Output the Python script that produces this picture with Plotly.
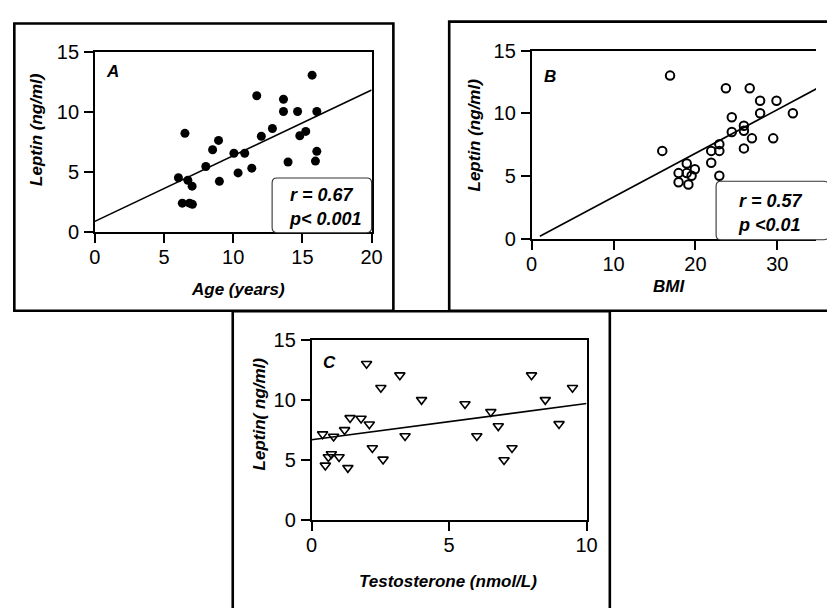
import numpy as np
import plotly.graph_objects as go

W, H = 827, 608

# ---------------- data ----------------
age = [6.04, 6.51, 6.72, 6.32, 6.84, 7.05, 7.03, 8.02, 8.51, 8.94, 9.0, 10.05, 10.35, 10.83,
       11.34, 11.7, 12.03, 12.83, 13.63, 13.63, 13.96, 14.65, 14.81, 15.24, 15.7, 16.04, 16.04, 15.94]
leptin_a = [4.5, 8.2, 4.29, 2.38, 2.38, 2.28, 3.8, 5.44, 6.83, 7.61, 4.2, 6.54, 4.9, 6.54,
            5.3, 11.33, 7.96, 8.6, 11.04, 10.02, 5.81, 10.02, 8.0, 8.36, 13.05, 10.02, 6.7, 5.89]

bmi = [15.95, 16.9, 17.94, 17.94, 18.94, 18.94, 19.14, 19.53, 19.93, 21.93, 21.93, 22.92, 22.92, 22.92,
       23.72, 24.44, 24.44, 25.92, 25.92, 25.92, 26.63, 26.9, 27.9, 27.9, 29.5, 29.9, 31.9]
leptin_b = [7.0, 13.0, 5.23, 4.5, 6.0, 5.23, 4.33, 5.02, 5.54, 7.0, 6.05, 7.54, 7.0, 5.02,
            12.0, 9.68, 8.5, 9.0, 8.6, 7.2, 12.0, 8.0, 11.0, 10.0, 8.0, 11.0, 10.0]

testo = [0.40, 0.50, 0.61, 0.72, 0.80, 1.0, 1.2, 1.32, 1.40, 1.80, 2.0, 2.1, 2.21, 2.52,
         2.6, 3.21, 3.40, 4.0, 5.58, 6.01, 6.52, 6.79, 7.0, 7.29, 8.0, 8.5, 9.0, 9.49]
leptin_c = [7.15, 4.55, 5.25, 5.5, 6.95, 5.25, 7.5, 4.35, 8.5, 8.45, 13.0, 7.97, 6.0, 11.0,
            5.05, 12.05, 7.0, 10.0, 9.66, 7.0, 9.0, 7.82, 5.0, 6.0, 12.05, 10.0, 8.0, 11.0]

# regression lines (intercept, slope, x-start, x-end)
fit_intercept = [0.86, -0.15, 6.68]
fit_slope = [0.5475, 0.348, 0.301]
fit_x0 = [0, 1, 0]
fit_x1 = [20, 35, 10]

stats_text = [["r = 0.67", "p< 0.001"], ["r = 0.57", "p <0.01"]]
panel_letters = ["A", "B", "C"]
y_ticks = [0, 5, 10, 15]
x_ticks = [[0, 5, 10, 15, 20], [0, 10, 20, 30], [0, 5, 10]]
x_titles = ["Age (years)", "BMI", "Testosterone (nmol/L)"]
y_titles = ["Leptin (ng/ml)", "Leptin (ng/ml)", "Leptin( ng/ml)"]

FONT = "Liberation Sans, Arial, Helvetica, sans-serif"


def fx(px):
    return px / W


def fy(py):
    return 1 - py / H


fig = go.Figure()

# scatter points
fig.add_trace(go.Scatter(x=age, y=leptin_a, mode="markers", xaxis="x", yaxis="y",
                         marker=dict(symbol="circle", size=9, color="black"), showlegend=False))
fig.add_trace(go.Scatter(x=bmi, y=leptin_b, mode="markers", xaxis="x2", yaxis="y2",
                         marker=dict(symbol="circle-open", size=8.5, color="black", line=dict(width=2)),
                         showlegend=False))
fig.add_trace(go.Scatter(x=testo, y=leptin_c, mode="markers", xaxis="x3", yaxis="y3",
                         marker=dict(symbol="triangle-down-open", size=9, color="black", line=dict(width=1.6)),
                         showlegend=False))

# regression lines
axes_ids = [("x", "y"), ("x2", "y2"), ("x3", "y3")]
for i, (xa, ya) in enumerate(axes_ids):
    xs = np.array([fit_x0[i], fit_x1[i]], dtype=float)
    ys = fit_intercept[i] + fit_slope[i] * xs
    fig.add_trace(go.Scatter(x=xs, y=ys, mode="lines", xaxis=xa, yaxis=ya,
                             line=dict(color="black", width=1.6), showlegend=False))

# plot areas in pixels: (left, right, top(y=15), bottom(y=0))
areas = [(90.7, 373.3, 42.3, 229.0), (536.7, 827.0, 41.0, 236.3), (312.0, 592.7, 341.0, 528.3)]
x_ranges = [[0, 20], [0, (827.0 - 536.7) / 8.36], [0, 10]]
tickfont = dict(family=FONT, size=20, color="black")
axis_common = dict(showline=True, linecolor="black", linewidth=1.6, ticks="outside", ticklen=9,
                   tickwidth=1.6, tickcolor="black", showgrid=False, zeroline=False, tickfont=tickfont,
                   fixedrange=True)

layout_axes = {}
for i, (l, r, t, b) in enumerate(areas):
    suffix = "" if i == 0 else str(i + 1)
    layout_axes["xaxis" + suffix] = dict(domain=[fx(l), min(fx(r), 1.0)], range=x_ranges[i],
                                         tickvals=x_ticks[i], anchor="y" + suffix, ticklabelstandoff=-3,
                                         mirror=True, **axis_common)
    layout_axes["yaxis" + suffix] = dict(domain=[fy(b), fy(t)], range=[0, 15], tickvals=y_ticks,
                                         anchor="x" + suffix, mirror=(i != 1), ticklabelstandoff=1,
                                         **axis_common)

shapes = []
# outer panel boxes
boxes = [(8.5, 395.5, 13.0, 311.0), (452.5, 845.0, 11.0, 311.0), (231.5, 616.5, 311.5, 625.0)]
for (x0, x1, y0, y1) in boxes:
    shapes.append(dict(type="rect", xref="paper", yref="paper", x0=fx(x0), x1=fx(x1), y0=fy(y1), y1=fy(y0),
                       line=dict(color="black", width=2.6), fillcolor="rgba(0,0,0,0)", layer="above"))


def rounded_rect(x0, x1, y0, y1, r=5):
    rx = r / W
    ry = r / H
    X0, X1 = fx(x0), fx(x1)
    Y0, Y1 = fy(y0), fy(y1)  # Y0 top, Y1 bottom
    return (f"M {X0+rx},{Y0} L {X1-rx},{Y0} Q {X1},{Y0} {X1},{Y0-ry} "
            f"L {X1},{Y1+ry} Q {X1},{Y1} {X1-rx},{Y1} L {X0+rx},{Y1} Q {X0},{Y1} {X0},{Y1+ry} "
            f"L {X0},{Y0-ry} Q {X0},{Y0} {X0+rx},{Y0} Z")


stat_boxes = [(271.7, 373.3, 173.3, 230.0), (725.0, 840.0, 176.7, 237.3)]
for (x0, x1, y0, y1) in stat_boxes:
    shapes.append(dict(type="path", xref="paper", yref="paper", path=rounded_rect(x0, x1, y0, y1),
                       line=dict(color="#333333", width=1.1), fillcolor="white", layer="above"))

annotations = []


def add_text(text, px, py, angle=0, xanchor="center", size=16):
    annotations.append(dict(text="<b><i>" + text + "</i></b>", x=fx(px), y=fy(py), xref="paper", yref="paper",
                            showarrow=False, textangle=angle, xanchor=xanchor, yanchor="middle",
                            font=dict(family=FONT, size=size, color="black")))


# axis titles
x_title_pos = [(236.7, 289.0), (677.0, 286.0), (451.7, 591.7)]
y_title_pos = [(31.0, 123.0), (478.0, 129.0), (258.3, 417.5)]
for i in range(3):
    add_text(x_titles[i], *x_title_pos[i], size=17)
    add_text(y_titles[i], *y_title_pos[i], angle=-90, size=17)

# panel letters
letter_pos = [(108.3, 63.0), (555.0, 68.3), (330.0, 364.3)]
for i in range(3):
    add_text(panel_letters[i], *letter_pos[i], size=17)

# statistics text (left aligned)
stat_pos = [[(288.0, 190.5), (286.5, 215.5)], [(746.0, 196.7), (745.0, 221.7)]]
for i in range(2):
    for j in range(2):
        add_text(stats_text[i][j], *stat_pos[i][j], xanchor="left", size=18)

fig.update_layout(width=W, height=H, margin=dict(l=0, r=0, t=0, b=0), paper_bgcolor="white",
                  plot_bgcolor="white", shapes=shapes, annotations=annotations, **layout_axes)

fig.write_html("out.html", config={"displayModeBar": False},
               post_script="document.body.style.margin='0';document.body.style.overflow='hidden';")
